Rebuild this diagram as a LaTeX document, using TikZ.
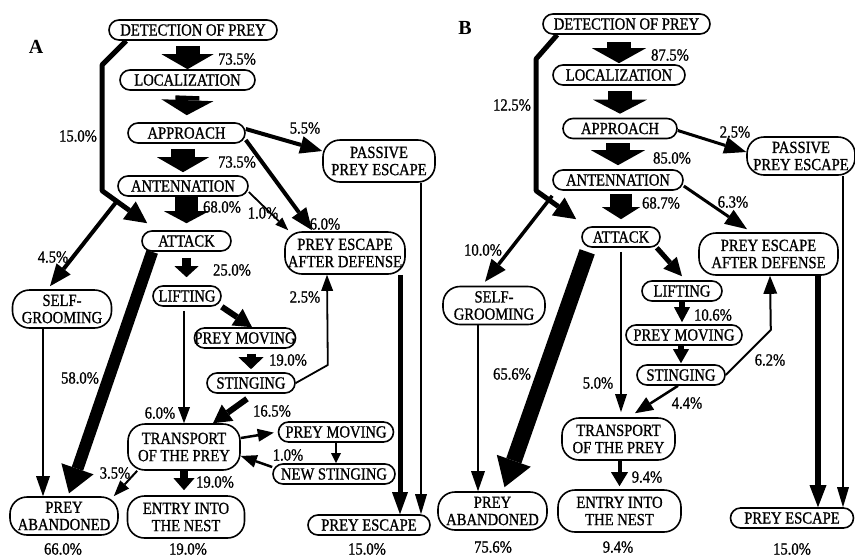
\documentclass[tikz,border=0pt]{standalone}
\usepackage{fontspec}
\setmainfont{Liberation Serif}
\newfontfamily\tf{Liberation Serif}[FakeStretch=0.86, FakeBold=1]
\usetikzlibrary{arrows.meta}
\newcommand\nf{\tf\fontsize{17}{17.2}\selectfont}
\begin{document}
\begin{tikzpicture}[x=1pt,y=-1pt,
  box/.style={draw, line width=1.6pt, rounded corners=10pt, minimum height=20pt,
    inner xsep=0pt, inner ysep=0pt, align=center, font=\nf},
  box2/.style={box, rounded corners=17pt},
  lbl/.style={inner sep=0pt, font=\nf},
  panel/.style={inner sep=0pt, font=\fontsize{20}{20}\selectfont\bfseries},
  ar/.style n args={3}{line width=#1, line join=round,
    -{Triangle[length=#2, width=#3, line width=0pt]}},
]
\useasboundingbox (0,0) rectangle (855,558);

% ---------------- Panel A ----------------
\node[panel] (A) at (36,47) {A};
\node[box, minimum width=168pt] (dA) at (193,30) {DETECTION OF PREY};
\node[box, minimum width=135pt] (lA) at (187.5,80) {LOCALIZATION};
\node[box, minimum width=117pt] (pA) at (186.5,133) {APPROACH};
\node[box, minimum width=130pt] (nA) at (183,186) {ANTENNATION};
\node[box, minimum width=89pt] (kA) at (186.5,241) {ATTACK};
\node[box, minimum width=68pt] (fA) at (187,296) {LIFTING};
\node[box, minimum width=97pt] (mA) at (245,338) {PREY MOVING};
\node[box, minimum width=88pt] (sA) at (251,383) {STINGING};
\node[box2, minimum width=112pt, minimum height=46pt] (tA) at (184,447) {TRANSPORT\\OF THE PREY};
\node[box, minimum width=115pt] (m2A) at (336,432) {PREY MOVING};
\node[box, minimum width=122pt] (nsA) at (334,474) {NEW STINGING};
\node[box2, minimum width=117pt, minimum height=42pt] (eA) at (186,517) {ENTRY INTO\\THE NEST};
\node[box2, minimum width=108pt, minimum height=38pt] (abA) at (64,516) {PREY\\ABANDONED};
\node[box2, minimum width=99pt, minimum height=38pt] (gA) at (62,309) {SELF-\\GROOMING};
\node[box2, minimum width=112pt, minimum height=42pt] (psA) at (379,161) {PASSIVE\\PREY ESCAPE};
\node[box2, minimum width=120pt, minimum height=42pt] (adA) at (345,253) {PREY ESCAPE\\AFTER DEFENSE};
\node[box, minimum width=122pt] (peA) at (369,525) {PREY ESCAPE};

% block arrows
\draw[ar={24pt}{15pt}{52pt}] ([yshift=-5pt]dA.south -| lA.north) -- (lA.north);
\draw[ar={24pt}{15pt}{52pt}, shorten >=7pt] ([yshift=-5pt]lA.south) -- (pA.north);
\draw[ar={24pt}{15pt}{52pt}, shorten >=3pt] ([yshift=-5pt]pA.south -| nA.north) -- (nA.north);
\draw[ar={23pt}{12pt}{45pt}, shorten >=7pt] (nA.south -| kA.north) -- (kA.north);
\draw[ar={9pt}{11pt}{24pt}, shorten >=8pt] ([yshift=-6pt]kA.south) -- (kA.south |- fA.north);
\draw[ar={9pt}{12pt}{25pt}, shorten >=3pt] ([yshift=-5pt]mA.south -| sA.north) -- (sA.north);
\draw[ar={8pt}{12pt}{21pt}, shorten >=5pt] (tA.south) -- (tA.south |- eA.north);

% other arrows
\draw[ar={6pt}{18pt}{20pt}] (fA.south east) -- ([xshift=7pt]mA.north);
\draw[ar={6pt}{18pt}{20pt}] ([xshift=-4pt,yshift=-5pt]sA.south) -- ([xshift=29pt]tA.north);
\draw[ar={1.8pt}{16pt}{12pt}] (sA.east) -- ++(32,-18) -- ([xshift=-18pt]adA.south);
\draw[ar={1.8pt}{16pt}{12pt}] ([yshift=-4pt]fA.south -| tA.north) -- (tA.north);
\draw[ar={2.5pt}{16pt}{13pt}, shorten >=4pt] ([yshift=9pt]tA.east) -- (m2A.west);
\draw[ar={2pt}{10pt}{10pt}] (m2A.south) -- (m2A.south |- nsA.north);
\draw[ar={2.5pt}{16pt}{13pt}] ([yshift=7pt]nsA.west) -- ([yshift=-9pt]tA.east);
\draw[ar={2pt}{16pt}{12pt}] ([xshift=10pt]tA.south west) -- ([xshift=-5pt]abA.north east);
\draw[ar={12pt}{26pt}{34pt}, shorten >=3pt] ([xshift=11pt]kA.south west) -- ([xshift=4pt]abA.north);
\draw[ar={2.5pt}{20pt}{14pt}] ([xshift=-19pt]gA.south) -- ([xshift=-21pt]abA.north);
\draw[ar={4pt}{22pt}{18pt}] ([yshift=-4pt]nA.south west) -- ([xshift=-12pt,yshift=3pt]gA.north);
\draw[ar={5pt}{22pt}{22pt}] ([xshift=18pt]dA.south west) -- ++(-24,24) -- ++(0,126)
  -- ([xshift=6pt,yshift=7pt]kA.north west);
\draw[ar={4pt}{22pt}{18pt}] ([yshift=4pt]pA.east) -- ([yshift=10pt]psA.west);
\draw[ar={4pt}{22pt}{18pt}] ([yshift=-7pt]pA.east) -- ([xshift=-33pt,yshift=1pt]adA.north);
\draw[ar={1.8pt}{13pt}{10pt}] ([yshift=-6pt]nA.east) -- ([xshift=4pt,yshift=1pt]adA.north west);
\draw[ar={5pt}{22pt}{16pt}] ([xshift=55pt]adA.south) -- ([xshift=31pt]peA.north);
\draw[ar={2pt}{20pt}{12pt}] ([xshift=42pt]psA.south) -- ([xshift=52pt]peA.north);

% labels A
\node[lbl] (a1) at (237,59) {73.5\%};
\node[lbl] (a2) at (237,162) {73.5\%};
\node[lbl] (a3) at (78,136) {15.0\%};
\node[lbl] (a4) at (305,128) {5.5\%};
\node[lbl] (a5) at (222,207) {68.0\%};
\node[lbl] (a6) at (263,213) {1.0\%};
\node[lbl] (a7) at (325,224) {6.0\%};
\node[lbl] (a8) at (53,257) {4.5\%};
\node[lbl] (a9) at (232,270) {25.0\%};
\node[lbl] (a10) at (80,378) {58.0\%};
\node[lbl] (a11) at (288,360) {19.0\%};
\node[lbl] (a12) at (305,297) {2.5\%};
\node[lbl] (a13) at (160,413) {6.0\%};
\node[lbl] (a14) at (272,411) {16.5\%};
\node[lbl] (a15) at (288,455) {1.0\%};
\node[lbl] (a16) at (115,473) {3.5\%};
\node[lbl] (a17) at (215,482) {19.0\%};
\node[lbl] (a18) at (63,549) {66.0\%};
\node[lbl] (a19) at (188,549) {19.0\%};
\node[lbl] (a20) at (367,549) {15.0\%};

% ---------------- Panel B ----------------
\node[panel] (B) at (465,28) {B};
\node[box, minimum width=167pt] (dB) at (626.5,24) {DETECTION OF PREY};
\node[box, minimum width=132pt] (lB) at (619,75) {LOCALIZATION};
\node[box, minimum width=114pt] (pB) at (620,128.5) {APPROACH};
\node[box, minimum width=130pt] (nB) at (618,180) {ANTENNATION};
\node[box, minimum width=78pt] (kB) at (621,237) {ATTACK};
\node[box, minimum width=80pt] (fB) at (682,291) {LIFTING};
\node[box, minimum width=116pt] (mB) at (684,335) {PREY MOVING};
\node[box, minimum width=88pt] (sB) at (681,375) {STINGING};
\node[box2, minimum width=113pt, minimum height=42pt] (tB) at (618.5,439) {TRANSPORT\\OF THE PREY};
\node[box2, minimum width=123pt, minimum height=42pt] (eB) at (619.5,511) {ENTRY INTO\\THE NEST};
\node[box2, minimum width=109pt, minimum height=38pt] (abB) at (492.5,511) {PREY\\ABANDONED};
\node[box2, minimum width=102pt, minimum height=38pt] (gB) at (494,305.5) {SELF-\\GROOMING};
\node[box2, minimum width=108pt, minimum height=38pt] (psB) at (801,156) {PASSIVE\\PREY ESCAPE};
\node[box2, minimum width=139pt, minimum height=42pt] (adB) at (768.5,254) {PREY ESCAPE\\AFTER DEFENSE};
\node[box, minimum width=123pt] (peB) at (792,518) {PREY ESCAPE};

% block arrows
\draw[ar={24pt}{15pt}{54pt}, shorten >=1pt] ([yshift=-7pt]dB.south -| lB.north) -- (lB.north);
\draw[ar={24pt}{14pt}{54pt}, shorten >=4pt] ([yshift=-5pt]lB.south -| pB.north) -- (pB.north);
\draw[ar={24pt}{15pt}{54pt}, shorten >=4pt] ([yshift=-4pt]pB.south -| nB.north) -- (nB.north);
\draw[ar={22pt}{12pt}{38pt}, shorten >=7pt] ([yshift=-3pt]nB.south -| kB.north) -- (kB.north);
\draw[ar={5.5pt}{15pt}{16pt}, shorten >=2pt] (fB.south) -- (fB.south |- mB.north);
\draw[ar={5.5pt}{14pt}{16pt}, shorten >=1pt] ([xshift=-3pt]mB.south) -- ([xshift=-3pt]mB.south |- sB.north);
\draw[ar={4pt}{14pt}{17pt}, shorten >=3pt] (tB.south) -- (tB.south -| eB.north) -- (eB.north);

% other arrows
\draw[ar={5pt}{22pt}{22pt}] ([xshift=15pt]dB.south west) -- ++(-21,24) -- ++(0,132)
  -- ([xshift=-5pt,yshift=7pt]kB.north west);
\draw[ar={3.5pt}{22pt}{18pt}] ([yshift=-5pt]nB.south west) -- ([xshift=-9pt,yshift=4pt]gB.north);
\draw[ar={16pt}{28pt}{36pt}] ([xshift=6pt,yshift=-4pt]kB.south west) -- ([xshift=12pt,yshift=4pt]abB.north);
\draw[ar={2.5pt}{20pt}{14pt}] ([xshift=-16pt]gB.south) -- ([xshift=-14.5pt]abB.north);
\draw[ar={1.8pt}{18pt}{12pt}, shorten >=5pt] ([yshift=-4pt]kB.south) -- (kB.south |- tB.north);
\draw[ar={5pt}{18pt}{18pt}] ([xshift=-4pt]kB.south east) -- ([yshift=4pt]fB.north);
\draw[ar={2pt}{18pt}{14pt}] (sB.east) -- ++(45,-45) -- ([xshift=1.5pt]adB.south);
\draw[ar={2.5pt}{18pt}{15pt}] ([xshift=-3pt]sB.south) -- ([xshift=16.5pt,yshift=4pt]tB.north);
\draw[ar={3pt}{22pt}{17pt}] ([yshift=-2pt]pB.east) -- ([yshift=4pt]psB.west);
\draw[ar={3pt}{22pt}{17pt}] ([yshift=-6pt]nB.east) -- ([xshift=-21.5pt,yshift=3pt]adB.north);
\draw[ar={6pt}{22pt}{17pt}] ([xshift=49.5pt]adB.south) -- ([xshift=26pt]peB.north);
\draw[ar={2pt}{20pt}{12pt}] ([xshift=42pt]psB.south) -- ([xshift=51pt]peB.north);

% labels B
\node[lbl] (b1) at (670,55) {87.5\%};
\node[lbl] (b2) at (512,105) {12.5\%};
\node[lbl] (b3) at (672,158) {85.0\%};
\node[lbl] (b4) at (735,132) {2.5\%};
\node[lbl] (b5) at (661,203) {68.7\%};
\node[lbl] (b6) at (733,202) {6.3\%};
\node[lbl] (b7) at (483,250) {10.0\%};
\node[lbl] (b8) at (512,374) {65.6\%};
\node[lbl] (b9) at (713,315) {10.6\%};
\node[lbl] (b10) at (770,360) {6.2\%};
\node[lbl] (b11) at (598,383) {5.0\%};
\node[lbl] (b12) at (687,403) {4.4\%};
\node[lbl] (b13) at (647,477) {9.4\%};
\node[lbl] (b14) at (493,547) {75.6\%};
\node[lbl] (b15) at (618,547) {9.4\%};
\node[lbl] (b16) at (792,549) {15.0\%};
\end{tikzpicture}
\end{document}
